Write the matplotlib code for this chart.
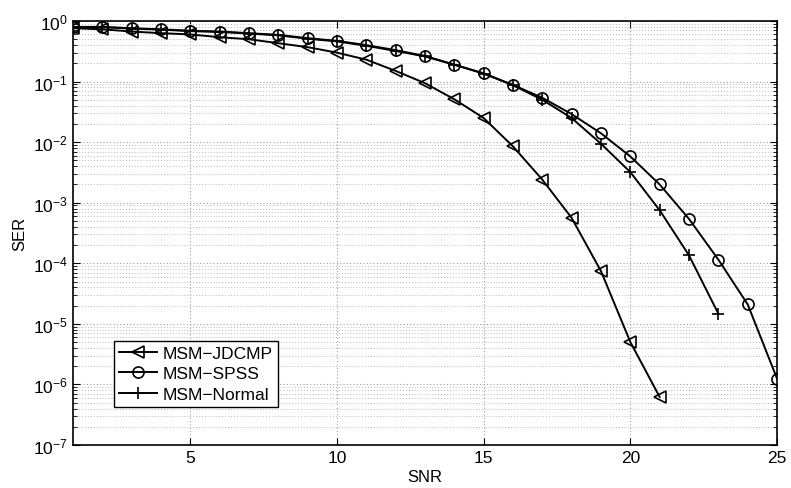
import matplotlib
matplotlib.use("Agg")
import matplotlib.pyplot as plt
from matplotlib.ticker import LogLocator, NullFormatter

plt.rcParams['font.family'] = ['Liberation Sans', 'DejaVu Sans']
plt.rcParams['mathtext.fontset'] = 'custom'
plt.rcParams['mathtext.rm'] = 'Liberation Sans'

snr_jd = list(range(1, 22))
ser_jd = [0.76, 0.73, 0.67, 0.63, 0.60, 0.54, 0.50, 0.43, 0.37, 0.30, 0.23,
          0.15, 0.094, 0.051, 0.025, 0.0085, 0.0024, 5.6e-4, 7.4e-5, 5.0e-6, 6.2e-7]

snr_sp = list(range(1, 26))
ser_sp = [0.80, 0.80, 0.76, 0.73, 0.69, 0.67, 0.63, 0.59, 0.52, 0.47, 0.40,
          0.33, 0.265, 0.19, 0.137, 0.088, 0.054, 0.029, 0.014, 0.0058, 0.0020,
          5.4e-4, 1.15e-4, 2.1e-5, 1.25e-6]

snr_no = list(range(1, 24))
ser_no = [0.79, 0.79, 0.75, 0.72, 0.68, 0.66, 0.62, 0.58, 0.51, 0.46, 0.39,
          0.32, 0.26, 0.19, 0.135, 0.087, 0.050, 0.025, 0.0094, 0.0032, 7.5e-4,
          1.35e-4, 1.47e-5]

fig = plt.figure(figsize=(7.91, 4.89), dpi=100)
ax = fig.add_axes([0.0923, 0.088, 0.890, 0.867])

kw = dict(color='black', lw=1.4, mfc='none', mec='black', mew=1.2)
ax.semilogy(snr_jd, ser_jd, marker='<', ms=9, label='MSM\u2212JDCMP', **kw)
ax.semilogy(snr_sp, ser_sp, marker='o', ms=8, label='MSM\u2212SPSS', **kw)
ax.semilogy(snr_no, ser_no, marker='+', ms=9, label='MSM\u2212Normal', **kw)

ax.set_xlim(1, 25)
ax.set_ylim(1e-7, 1)
ax.set_xticks([5, 10, 15, 20, 25])
ax.yaxis.set_major_locator(LogLocator(base=10, numticks=10))
ax.yaxis.set_minor_locator(LogLocator(base=10, subs=range(2, 10), numticks=100))
ax.yaxis.set_minor_formatter(NullFormatter())
ax.grid(True, which='major', ls=(0, (1, 2)), color='#a0a0a0', lw=0.8)
ax.grid(True, which='minor', axis='y', ls=(0, (1, 2)), color='#b8b8b8', lw=0.7)
ax.tick_params(which='both', direction='in', top=True, right=True, labelsize=12.5)
ax.tick_params(which='major', length=5)
ax.tick_params(which='minor', length=3)
for s in ax.spines.values():
    s.set_linewidth(1.2)

ax.set_xlabel('SNR', fontsize=12, labelpad=3)
ax.set_ylabel('SER', fontsize=12)

leg = ax.legend(loc='lower left', bbox_to_anchor=(0.058, 0.09), fontsize=12.5,
                fancybox=False, framealpha=1, edgecolor='black',
                handlelength=2.2, handletextpad=0.3, borderpad=0.3,
                labelspacing=0.3, borderaxespad=0)
leg.get_frame().set_linewidth(1.0)

fig.savefig('out.png', dpi=100)
